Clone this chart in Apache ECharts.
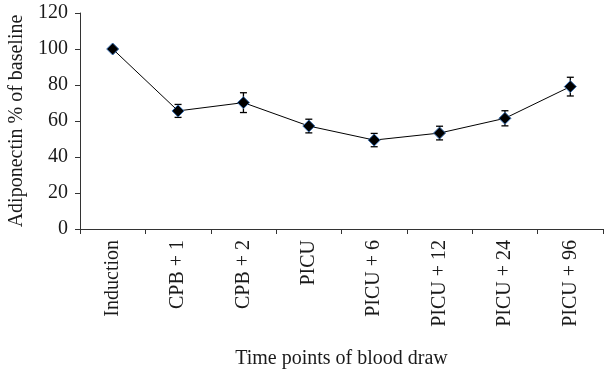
<!DOCTYPE html>
<html><head><meta charset="utf-8">
<script src="https://cdn.jsdelivr.net/npm/echarts@6/dist/echarts.min.js"></script>
<style>html,body{margin:0;padding:0;background:#fff}#c{width:605px;height:374px}</style>
</head><body><div id="c"></div>
<script>
const categories = ['Induction','CPB + 1','CPB + 2','PICU','PICU + 6','PICU + 12','PICU + 24','PICU + 96'];
const values = [100, 65.6, 70.2, 57.2, 49.4, 53.3, 61.5, 79.1];
const errors = [0, 3.6, 5.5, 3.8, 3.7, 3.8, 4.2, 5.2];
const yTicks = [0, 20, 40, 60, 80, 100, 120];

const font = 'Liberation Serif';
const chart = echarts.init(document.getElementById('c'));
chart.setOption({
  animation: false,
  grid: {left: 80, top: 13, right: 2, bottom: 145, containLabel: false, outerBoundsMode: 'none'},
  xAxis: {
    type: 'category', data: categories, boundaryGap: true,
    name: 'Time points of blood draw', nameLocation: 'middle', nameGap: 120,
    nameTextStyle: {fontFamily: font, fontSize: 20, color: '#1a1a1a'},
    axisLine: {lineStyle: {color: '#333', width: 1}},
    axisTick: {show: true, alignWithLabel: false, length: 5, lineStyle: {color: '#333'}},
    axisLabel: {rotate: 90, interval: 0, margin: 11, fontFamily: font, fontSize: 20, color: '#1a1a1a'}
  },
  yAxis: {
    type: 'value', min: 0, max: 120, interval: 20,
    name: 'Adiponectin % of baseline', nameLocation: 'middle', nameGap: 52,
    nameTextStyle: {fontFamily: font, fontSize: 20, color: '#1a1a1a'},
    axisLine: {show: true, lineStyle: {color: '#333', width: 1}},
    axisTick: {show: true, length: 5, lineStyle: {color: '#333'}},
    splitLine: {show: false},
    axisLabel: {margin: 12, fontFamily: font, fontSize: 20, color: '#1a1a1a',
      formatter: v => yTicks.includes(v) ? String(v) : ''}
  },
  series: [
    {
      type: 'custom',
      data: values.map((v, i) => [i, v - errors[i], v + errors[i]]),
      renderItem: function (params, api) {
        if (api.value(2) - api.value(1) <= 0) return null;
        const lo = api.coord([api.value(0), api.value(1)]);
        const hi = api.coord([api.value(0), api.value(2)]);
        const w = 3.5;
        const st = {stroke: '#000', lineWidth: 1.3};
        return {type: 'group', children: [
          {type: 'line', shape: {x1: lo[0], y1: lo[1], x2: hi[0], y2: hi[1]}, style: st},
          {type: 'line', shape: {x1: lo[0]-w, y1: lo[1], x2: lo[0]+w, y2: lo[1]}, style: st},
          {type: 'line', shape: {x1: hi[0]-w, y1: hi[1], x2: hi[0]+w, y2: hi[1]}, style: st}
        ]};
      },
      z: 1
    },
    {
      type: 'line', data: values,
      symbol: 'diamond', symbolSize: 12,
      lineStyle: {color: '#000', width: 1},
      itemStyle: {color: '#000', borderColor: '#3a6fb0', borderWidth: 1},
      z: 2
    }
  ]
});
</script></body></html>
